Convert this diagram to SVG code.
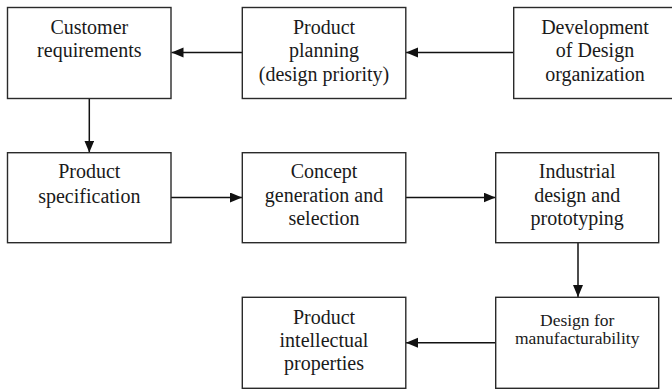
<svg xmlns="http://www.w3.org/2000/svg" width="672" height="392" viewBox="0 0 672 392">
<style>
  .box { fill: #ffffff; stroke: #2a2a2a; stroke-width: 1.4; }
  .lbl { font-family: 'Liberation Serif', serif; font-size: 20px; fill: #1a1a1a; text-anchor: middle; }
  .sm { font-size: 17.5px; }
  .conn { fill: none; stroke: #111111; stroke-width: 1.5; marker-end: url(#arrow); }
</style>
<defs>
  <marker id="arrow" markerUnits="userSpaceOnUse" markerWidth="13" markerHeight="11" refX="12" refY="5" orient="auto">
    <path d="M0,0 L12,5 L0,10 Z" fill="#111111"/>
  </marker>
</defs>
<rect width="672" height="392" fill="#ffffff"/>

<g id="connectors">
  <line class="conn" x1="513.5" y1="52.5" x2="406" y2="52.5"/>
  <line class="conn" x1="242" y1="52.5" x2="171.5" y2="52.5"/>
  <line class="conn" x1="89.3" y1="98.5" x2="89.3" y2="152.5"/>
  <line class="conn" x1="171" y1="197.5" x2="242" y2="197.5"/>
  <line class="conn" x1="406" y1="197.5" x2="495.5" y2="197.5"/>
  <line class="conn" x1="578" y1="242.7" x2="578" y2="297"/>
  <line class="conn" x1="495.7" y1="342.7" x2="406" y2="342.7"/>
</g>

<g id="customer-requirements">
  <rect class="box" x="7.5" y="7.5" width="163.5" height="91"/>
  <text class="lbl" font-family="Liberation Serif" x="89.3" y="33.5">Customer</text>
  <text class="lbl" font-family="Liberation Serif" x="89.3" y="57">requirements</text>
</g>

<g id="product-planning">
  <rect class="box" x="242.3" y="7.5" width="163.5" height="91"/>
  <text class="lbl" x="324" y="33.5">Product</text>
  <text class="lbl" x="324" y="57">planning</text>
  <text class="lbl" x="324" y="80.5">(design priority)</text>
</g>

<g id="development-design-organization">
  <rect class="box" x="513.7" y="7.5" width="165" height="91"/>
  <text class="lbl" x="595" y="33.5">Development</text>
  <text class="lbl" x="595" y="57">of Design</text>
  <text class="lbl" x="595" y="80.5">organization</text>
</g>

<g id="product-specification">
  <rect class="box" x="7.5" y="152.7" width="163.5" height="90"/>
  <text class="lbl" x="89.3" y="178.3">Product</text>
  <text class="lbl" x="89.3" y="202.8">specification</text>
</g>

<g id="concept-generation">
  <rect class="box" x="242.3" y="152.7" width="163.5" height="90"/>
  <text class="lbl" x="324" y="177.5">Concept</text>
  <text class="lbl" x="324" y="201.8">generation and</text>
  <text class="lbl" x="324" y="225.3">selection</text>
</g>

<g id="industrial-design">
  <rect class="box" x="495.7" y="152.7" width="163" height="90"/>
  <text class="lbl" x="577.2" y="177.5">Industrial</text>
  <text class="lbl" x="577.2" y="201.8">design and</text>
  <text class="lbl" x="577.2" y="225.3">prototyping</text>
</g>

<g id="design-for-manufacturability">
  <rect class="box" x="495.7" y="297.3" width="163" height="91"/>
  <text class="lbl sm" x="577.2" y="325.5">Design for</text>
  <text class="lbl sm" x="577.2" y="344.3">manufacturability</text>
</g>

<g id="product-intellectual-properties">
  <rect class="box" x="242.3" y="297.3" width="163.5" height="91"/>
  <text class="lbl" x="324" y="323.5">Product</text>
  <text class="lbl" x="324" y="347.3">intellectual</text>
  <text class="lbl" x="324" y="370.3">properties</text>
</g>
</svg>
